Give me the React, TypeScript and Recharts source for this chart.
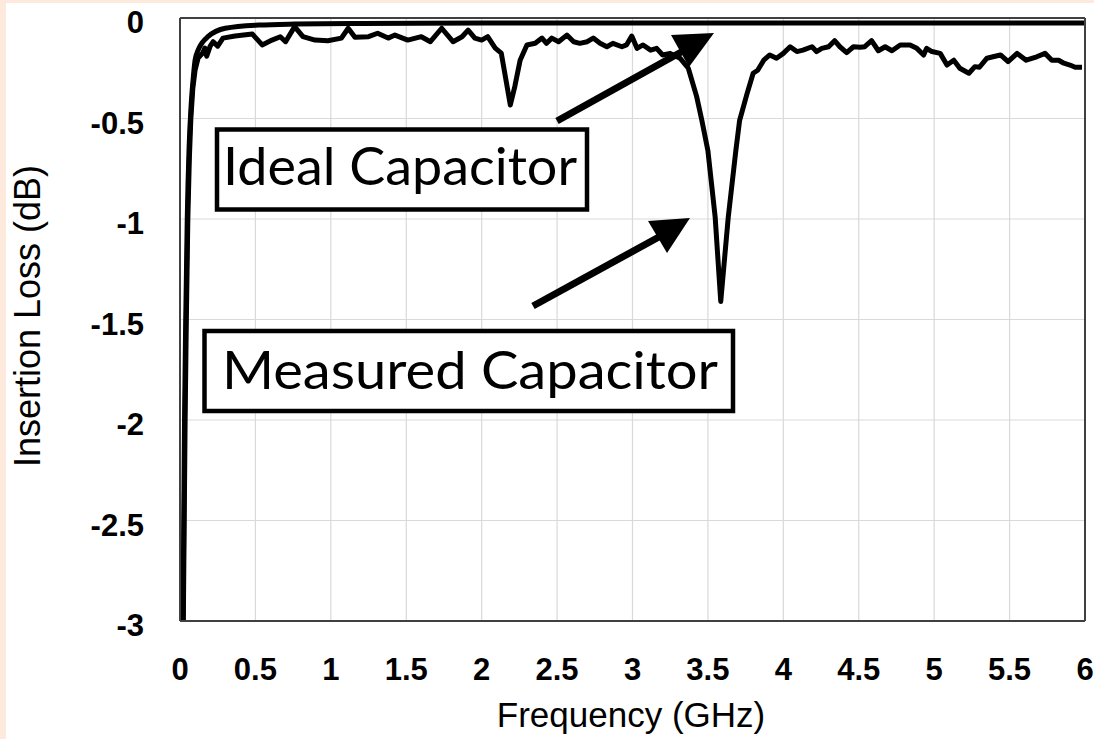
import { CartesianGrid, Line, LineChart, XAxis, YAxis } from "recharts";

const xTicks = [0, 0.5, 1, 1.5, 2, 2.5, 3, 3.5, 4, 4.5, 5, 5.5, 6];
const yTicks = [0, -0.5, -1, -1.5, -2, -2.5, -3];

// ideal capacitor (GHz, dB)
const idealFreq = [0.02, 0.025, 0.03, 0.038, 0.048, 0.06, 0.075, 0.09, 0.1, 0.12, 0.15, 0.185, 0.3, 0.52, 0.76, 1.2, 2, 3, 4, 5, 6];
const idealLoss = [-3, -2.5, -2, -1.5, -1, -0.65, -0.42, -0.28, -0.21, -0.16, -0.12, -0.093, -0.051, -0.035, -0.03, -0.027, -0.025, -0.025, -0.025, -0.025, -0.025];

// measured capacitor (GHz, dB)
const measuredFreq = [
  0.022, 0.028, 0.034, 0.042, 0.052, 0.062, 0.072, 0.085, 0.1, 0.12, 0.15, 0.165, 0.177, 0.2, 0.22, 0.25, 0.285, 0.365,
  0.48, 0.545, 0.61, 0.665, 0.7, 0.76, 0.815, 0.895, 0.98, 1.07, 1.115, 1.16, 1.25, 1.31, 1.38, 1.425, 1.51, 1.6, 1.66,
  1.735, 1.81, 1.87, 1.91, 1.955, 2.0, 2.04, 2.09, 2.13, 2.165, 2.19, 2.22, 2.255, 2.3, 2.355, 2.4, 2.43, 2.465, 2.51,
  2.565, 2.61, 2.65, 2.7, 2.74, 2.785, 2.83, 2.87, 2.93, 2.96, 2.995, 3.03, 3.07, 3.12, 3.16, 3.2, 3.25, 3.315, 3.37,
  3.425, 3.46, 3.5, 3.548, 3.585, 3.635, 3.685, 3.71, 3.76, 3.8, 3.83, 3.87, 3.91, 3.955, 4.0, 4.045, 4.09, 4.13, 4.19,
  4.22, 4.255, 4.3, 4.34, 4.375, 4.42, 4.465, 4.51, 4.54, 4.585, 4.63, 4.675, 4.72, 4.775, 4.84, 4.885, 4.93, 4.95,
  4.985, 5.04, 5.085, 5.13, 5.17, 5.23, 5.27, 5.3, 5.35, 5.39, 5.44, 5.49, 5.55, 5.61, 5.68, 5.735, 5.78, 5.825, 5.86,
  5.9, 5.935, 5.98,
];
const measuredLoss = [
  -3, -2.5, -2, -1.5, -1, -0.7, -0.5, -0.35, -0.26, -0.2, -0.175, -0.15, -0.19, -0.14, -0.118, -0.14, -0.1, -0.09,
  -0.08, -0.134, -0.11, -0.093, -0.118, -0.043, -0.093, -0.11, -0.113, -0.1, -0.051, -0.096, -0.093, -0.076, -0.1,
  -0.085, -0.11, -0.093, -0.118, -0.051, -0.118, -0.093, -0.06, -0.1, -0.11, -0.093, -0.15, -0.175, -0.325, -0.433,
  -0.34, -0.21, -0.134, -0.126, -0.1, -0.126, -0.1, -0.118, -0.085, -0.118, -0.126, -0.118, -0.1, -0.126, -0.143,
  -0.126, -0.143, -0.134, -0.09, -0.151, -0.134, -0.16, -0.151, -0.184, -0.176, -0.2, -0.25, -0.39, -0.51, -0.66,
  -0.99, -1.41, -0.99, -0.66, -0.51, -0.375, -0.275, -0.26, -0.21, -0.184, -0.2, -0.176, -0.143, -0.167, -0.16,
  -0.143, -0.167, -0.151, -0.143, -0.113, -0.143, -0.172, -0.143, -0.146, -0.143, -0.113, -0.163, -0.143, -0.163,
  -0.134, -0.134, -0.151, -0.184, -0.151, -0.167, -0.176, -0.234, -0.21, -0.25, -0.275, -0.242, -0.245, -0.2, -0.193,
  -0.184, -0.217, -0.176, -0.21, -0.193, -0.176, -0.21, -0.21, -0.225, -0.234, -0.245, -0.245,
];

const idealData = idealFreq.map((f, i) => ({ f, loss: idealLoss[i] }));
const measuredData = measuredFreq.map((f, i) => ({ f, loss: measuredLoss[i] }));

const tickFont = "'Liberation Sans', Arial, sans-serif";

const XTick = (props: any) => (
  <text x={props.x} y={props.y + 59} textAnchor="middle" fontFamily={tickFont} fontWeight="bold" fontSize={31} fill="#000">
    {props.payload.value}
  </text>
);

const YTick = (props: any) => (
  <text x={props.x} y={props.y + 15} textAnchor="end" fontFamily={tickFont} fontWeight="bold" fontSize={31} fill="#000">
    {props.payload.value}
  </text>
);

export default function App() {
  return (
    <div style={{ position: "absolute", left: 0, top: 0, width: 1094, height: 739, background: "#FDEADD" }}>
      <div style={{ position: "absolute", left: 6, top: 3, width: 1088, height: 736, background: "#fff" }} />
      <div style={{ position: "absolute", left: 0, top: 0 }}>
        <LineChart width={1094} height={739} margin={{ top: 18, right: 9, bottom: 0, left: 0 }}>
          <CartesianGrid stroke="#D9D9D9" strokeWidth={1.2} />
          <XAxis
            dataKey="f"
            type="number"
            domain={[0, 6]}
            ticks={xTicks}
            height={118}
            tickSize={0}
            tickMargin={0}
            axisLine={{ stroke: "#404040", strokeWidth: 2 }}
            tickLine={false}
            tick={XTick}
            allowDuplicatedCategory={false}
          />
          <YAxis
            type="number"
            domain={[-3, 0]}
            ticks={yTicks}
            width={180}
            tickSize={0}
            tickMargin={36}
            axisLine={{ stroke: "#404040", strokeWidth: 2 }}
            tickLine={false}
            tick={YTick}
            allowDataOverflow
          />
          <Line
            data={idealData}
            dataKey="loss"
            type="monotone"
            stroke="#000"
            strokeWidth={5}
            strokeLinejoin="round"
            dot={false}
            isAnimationActive={false}
          />
          <Line
            data={measuredData}
            dataKey="loss"
            type="linear"
            stroke="#000"
            strokeWidth={5}
            strokeLinejoin="round"
            dot={false}
            isAnimationActive={false}
          />
        </LineChart>
      </div>
      <svg width={1094} height={739} style={{ position: "absolute", left: 0, top: 0 }}>
        <line x1={180} y1={18} x2={1085} y2={18} stroke="#404040" strokeWidth={2} />
        <line x1={1085} y1={18} x2={1085} y2={621} stroke="#404040" strokeWidth={2} />
        <text x={631} y={727} textAnchor="middle" fontFamily={tickFont} fontSize={35} fill="#000">
          Frequency (GHz)
        </text>
        <text
          x={0}
          y={0}
          transform="translate(40,316) rotate(-90)"
          textAnchor="middle"
          fontFamily={tickFont}
          fontSize={36}
          fill="#000"
        >
          Insertion Loss (dB)
        </text>
        {/* annotations */}
        <line x1={557} y1={121} x2={692} y2={46} stroke="#000" strokeWidth={7} />
        <polygon points="671,35 714,33 689,67" fill="#000" />
        <line x1={533} y1={306} x2={668} y2={232} stroke="#000" strokeWidth={7} />
        <polygon points="648,221 690,218 667,253" fill="#000" />
        <rect x={217} y={129.5} width={370} height={80} fill="#fff" stroke="#000" strokeWidth={4.5} />
        <text x={223} y={185} textLength={354} lengthAdjust="spacingAndGlyphs" fontFamily="Lato, 'Open Sans', sans-serif" fontSize={52} fill="#000">
          Ideal Capacitor
        </text>
        <rect x={204.5} y={331} width={528.5} height={80} fill="#fff" stroke="#000" strokeWidth={4.5} />
        <text x={222} y={389} textLength={496} lengthAdjust="spacingAndGlyphs" fontFamily="Lato, 'Open Sans', sans-serif" fontSize={52} fill="#000">
          Measured Capacitor
        </text>
      </svg>
    </div>
  );
}
